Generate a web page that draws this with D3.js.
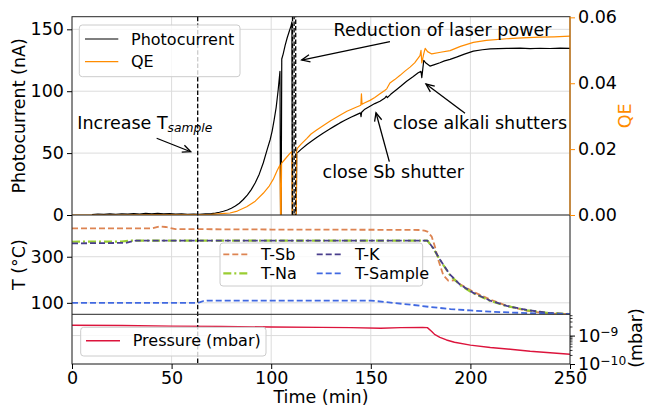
<!DOCTYPE html>
<html><head><meta charset="utf-8">
<script src="https://cdn.jsdelivr.net/npm/d3@7"></script>
<style>body{margin:0;background:#fff} svg{display:block} text{font-family:"DejaVu Sans",sans-serif;fill:#000}</style>
</head><body><svg id="c" width="645" height="409"></svg>
<script>
// ---------------- data ----------------
const photocurrent = [[10,0.4],[13,0.8],[16,0.5],[19,0.9],[22,0.6],[25,1.0],[28,0.7],[31,1.1],[34,0.8],[37,1.3],[40,1.0],[43,1.4],[46,0.9],[49,1.1],[52,0.7],[55,0.9],[58,0.6],[61,0.8],[64,0.6],[67,0.9],[70,1.1],[72,1.5],[74,2.2],[76,3.0],[78,4.0],[80,5.5],[82,7.2],[84,9.5],[86,12.5],[88,16],[90,20.5],[92,26],[94,33],[96,42],[98,53],[99.5,61],[100.5,68],[101.5,77],[102.5,87],[103.5,101],[104.4,116],[104.7,0],[105.0,0],[105.3,126],[106,130],[107,137],[108,143],[109,148],[110,153],[110.4,156],[110.6,0],[112.6,0],[112.8,50],[113.5,50.8],[115,53],[117.8,56.8],[120,59.3],[123,62.8],[126.2,66.3],[129,69],[132,72],[134.5,74.4],[137,76.5],[140,79],[142.9,81.1],[144.8,82.5],[145.1,79.5],[145.4,83],[147,85.5],[149.6,87.8],[152,90],[154.6,91.9],[157.1,94.6],[157.8,96],[158.3,94.8],[160,97.5],[163,101.4],[165,104],[168,108.1],[171,111.5],[173.8,114.9],[175.2,116],[175.6,111],[176.6,125],[177.5,123],[179.7,120.3],[182,121.5],[184.7,123],[187,124.5],[189.8,125.7],[193,127.5],[197,130],[201.5,132.4],[206,133.5],[210,134.2],[218.2,134.6],[225,134.8],[230,134.4],[235,134.7],[240,134.5],[245,134.8],[250,134.6]];
const qe = [[0,0],[20,0],[40,0.0001],[60,0.0001],[70,0.0002],[75,0.0004],[79.3,0.0006],[83,0.0012],[87.7,0.0025],[92,0.0042],[96,0.0066],[99,0.0088],[101,0.0108],[103,0.0135],[104.4,0.0152],[104.7,0],[105.0,0],[105.2,0.0157],[107,0.0170],[109.4,0.0187],[110.4,0.0192],[110.6,0],[112.6,0],[112.8,0.0195],[113.1,0.0202],[115,0.0215],[117.8,0.0232],[120,0.0246],[123,0.0259],[126.2,0.0272],[130,0.0287],[134.5,0.0303],[138,0.0315],[142.9,0.0328],[145,0.0333],[145.3,0.0368],[145.6,0.0336],[147,0.0341],[149.6,0.0348],[152,0.0357],[154.6,0.0368],[157,0.0378],[158,0.0383],[159.6,0.0401],[162,0.0411],[164.7,0.0424],[167,0.0436],[169.7,0.0449],[172,0.0462],[174.7,0.0484],[175.2,0.0500],[175.6,0.0462],[176.6,0.0490],[177.3,0.0506],[178.5,0.0496],[180.6,0.0489],[185,0.0494],[189.8,0.0499],[195,0.0512],[201.5,0.0524],[208,0.0530],[218.2,0.0535],[226,0.0538],[235,0.0540],[242,0.0541],[250,0.0543]];
const tSb = [[0,423],[40,423],[44,432],[47,429],[52,420],[100,418],[150,417],[174.7,416],[177,413],[178.4,409],[180.6,387],[182.2,343],[183.9,286],[186.4,220],[188.9,196],[191,197],[192.3,199],[194.8,181],[201.5,148],[209.8,115],[218,88],[228,66],[238,55],[250,50]];
const tNa = [[0,365],[25,366],[30,370],[178.4,370],[181.4,336],[184.7,286],[189.8,220],[194.8,177],[201.5,141],[209.8,109],[218.2,86],[228.3,68],[238.3,57],[250,51]];
const tK = [[0,358],[27,360],[32,370],[178.4,370],[181.4,337],[184.7,288],[189.8,222],[194.8,179],[201.5,143],[209.8,110],[218.2,87],[228.3,69],[238.3,57],[250,51]];
const tSample = [[0,100],[62.5,100],[64,102],[66,108],[68,110],[100,110],[150,110],[160,101],[170,92],[180,82],[190,73],[200,67],[210,62],[220,58],[235,54],[250,51]];
const pressure = [[0,2.3e-9],[25,2.25e-9],[50,2.15e-9],[75,2.1e-9],[100,2.0e-9],[125,1.95e-9],[140,1.9e-9],[155,1.8e-9],[165,1.9e-9],[176,1.95e-9],[178.4,1.9e-9],[180.6,1.4e-9],[182,1.1e-9],[184.7,8.7e-10],[188,7e-10],[192,5.8e-10],[200,4.6e-10],[210,3.8e-10],[220,3.3e-10],[230,2.8e-10],[240,2.5e-10],[250,2.2e-10]];
const timeTicks = [0,50,100,150,200,250];
const pcTicks = [0,50,100,150];
const qeTicks = [0,0.02,0.04,0.06];
const tTicks = [100,300];
const pTicks = [1e-9,1e-10];
const pMinor = [2e-10,3e-10,4e-10,5e-10,6e-10,7e-10,8e-10,9e-10,2e-9,3e-9,4e-9,5e-9];
const tempIncreaseTime = 63.1;
const laserTimes = [110.7,111.5,112.3];
// annotations in data coords (time, nA): text, anchor, text pos, arrow start, arrow tip
const annotations = [
  {text:"Reduction of laser power", anchor:"middle", pos:[186.0,144.6], from:[159.6,140.0], to:[115.3,125.2]},
  {text:"close Sb shutter", anchor:"middle", pos:[161.3,29.9], from:[159.3,43.1], to:[152.6,82.6]},
  {text:"close alkali shutters", anchor:"middle", pos:[204.8,69.2], from:[197.3,82.2], to:[177.7,105.8]},
  {text:"Increase T", sub:"sample", anchor:"start", pos:[2.66,69.2], from:[42.5,62.0], to:[59.6,51.1]}
];

// ---------------- layout ----------------
const svg = d3.select('#c');
const L=72, R=570, T1=16.7, B1=215, B2=314.3, B3=364;
const FS=17.5, LFS=16;
const cQE='#ff8c00', cSb='#dd8452', cNa='#9acd32', cK='#483d8b', cS='#4169e1', cP='#dc143c';
const x = d3.scaleLinear().domain([0,250]).range([L,R]);
const yPC = d3.scaleLinear().domain([0,160.2]).range([B1,T1]);
const yQE = d3.scaleLinear().domain([0,0.0602]).range([B1,T1]);
const yT = d3.scaleLinear().domain([50.3,481]).range([B2,B1]);
const yP = d3.scaleLog().domain([1e-10,5.6e-9]).range([B3,B2]);

const defs = svg.append('defs');
[['c1',T1,B1],['c2',B1,B2],['c3',B2,B3]].forEach(([id,a,b])=>{
  defs.append('clipPath').attr('id',id).append('rect').attr('x',L).attr('y',a).attr('width',R-L).attr('height',b-a);
});

// grids
const grid = svg.append('g').attr('stroke','#dcdcdc').attr('stroke-width',1);
[[T1,B1],[B1,B2],[B2,B3]].forEach(([a,b])=>{
  timeTicks.forEach(t=>grid.append('line').attr('x1',x(t)).attr('x2',x(t)).attr('y1',a).attr('y2',b));
});
pcTicks.forEach(v=>grid.append('line').attr('x1',L).attr('x2',R).attr('y1',yPC(v)).attr('y2',yPC(v)));
tTicks.forEach(v=>grid.append('line').attr('x1',L).attr('x2',R).attr('y1',yT(v)).attr('y2',yT(v)));
pTicks.forEach(v=>grid.append('line').attr('x1',L).attr('x2',R).attr('y1',yP(v)).attr('y2',yP(v)));

function drawLine(data, ys, clip, color, w, dash){
  const p = svg.append('path').datum(data)
    .attr('clip-path',`url(#${clip})`)
    .attr('fill','none').attr('stroke',color).attr('stroke-width',w)
    .attr('stroke-linejoin','round')
    .attr('d', d3.line().x(d=>x(d[0])).y(d=>ys(d[1])));
  if(dash) p.attr('stroke-dasharray',dash);
  return p;
}
// top
drawLine(photocurrent, yPC, 'c1', '#000', 1.2);
drawLine(qe, yQE, 'c1', cQE, 1.2);
// middle
drawLine(tSb, yT, 'c2', cSb, 1.8, '6,3');
drawLine(tNa, yT, 'c2', cNa, 2.2, '8,3,2,3');
drawLine(tK, yT, 'c2', cK, 1.8, '6,3');
drawLine(tSample, yT, 'c2', cS, 1.8, '6,3');
// bottom
drawLine(pressure, yP, 'c3', cP, 1.4);

// vertical dashed markers
svg.append('line').attr('x1',x(tempIncreaseTime)).attr('x2',x(tempIncreaseTime)).attr('y1',T1).attr('y2',B3)
  .attr('stroke','#000').attr('stroke-width',1.3).attr('stroke-dasharray','4.5,2.2');
laserTimes.forEach((t,i)=>svg.append('line').attr('x1',x(t)).attr('x2',x(t)).attr('y1',T1).attr('y2',B1)
  .attr('stroke','#000').attr('stroke-width',1.3).attr('stroke-dasharray','4.5,2.2').attr('stroke-dashoffset',i*2));

// spines
const sp = svg.append('g').attr('stroke','#262626').attr('stroke-width',1).attr('fill','none');
sp.append('rect').attr('x',L).attr('y',T1).attr('width',R-L).attr('height',B3-T1);
sp.append('line').attr('x1',L).attr('x2',R).attr('y1',B1).attr('y2',B1);
sp.append('line').attr('x1',L).attr('x2',R).attr('y1',B2).attr('y2',B2);
svg.append('line').attr('x1',R).attr('x2',R).attr('y1',T1).attr('y2',B1).attr('stroke',cQE).attr('stroke-width',1);

// axes
function styleAxis(g, color){
  g.select('.domain').remove();
  g.selectAll('line').attr('stroke',color).attr('stroke-width',1);
  g.selectAll('text').style('font-size',FS+'px').style('font-family','DejaVu Sans').attr('fill',color);
}
svg.append('g').attr('transform',`translate(0,${B3})`)
  .call(d3.axisBottom(x).tickValues(timeTicks).tickSize(5).tickPadding(3).tickFormat(d3.format('d')))
  .call(g=>styleAxis(g,'#000'));
svg.append('g').attr('transform',`translate(${L},0)`)
  .call(d3.axisLeft(yPC).tickValues(pcTicks).tickSize(5).tickPadding(3).tickFormat(d3.format('d')))
  .call(g=>styleAxis(g,'#000'));
svg.append('g').attr('transform',`translate(${R},0)`)
  .call(d3.axisRight(yQE).tickValues(qeTicks).tickSize(5).tickPadding(3).tickFormat(d3.format('.2f')))
  .call(g=>styleAxis(g,cQE));
svg.append('g').attr('transform',`translate(${L},0)`)
  .call(d3.axisLeft(yT).tickValues(tTicks).tickSize(5).tickPadding(3).tickFormat(d3.format('d')))
  .call(g=>styleAxis(g,'#000'));
// pressure log axis
const pAx = svg.append('g').attr('transform',`translate(${R},0)`)
  .call(d3.axisRight(yP).tickValues(pTicks).tickSize(5).tickPadding(3).tickFormat(()=>''))
  .call(g=>styleAxis(g,'#000'));
pAx.selectAll('.tick text').each(function(d){
  const t = d3.select(this);
  t.text('');
  t.append('tspan').text('10');
  t.append('tspan').text('\u2212'+Math.round(-Math.log10(d))).style('font-size','12.3px').attr('dy','-0.45em');
});
pMinor.forEach(v=>svg.append('line').attr('x1',R).attr('x2',R+2.5).attr('y1',yP(v)).attr('y2',yP(v)).attr('stroke','#000').attr('stroke-width',0.8));

// axis labels
function vlabel(txt,cx,cy,color){
  svg.append('text').attr('transform',`translate(${cx},${cy}) rotate(-90)`).attr('text-anchor','middle')
    .attr('dominant-baseline','central').style('font-size',FS+'px').attr('fill',color).style('fill',color).text(txt);
}
vlabel('Photocurrent (nA)',19,(T1+B1)/2,'#000');
vlabel('T (\u00b0C)',19,(B1+B2)/2,'#000');
vlabel('QE',625,(T1+B1)/2,cQE);
vlabel('(mbar)',636,338,'#000');
svg.append('text').attr('x',(L+R)/2).attr('y',397).attr('text-anchor','middle').attr('dominant-baseline','central')
  .style('font-size',FS+'px').text('Time (min)');

// annotations
function arrow(x1,y1,x2,y2){
  const g = svg.append('g').attr('stroke','#000').attr('stroke-width',1.3).attr('fill','none');
  g.append('line').attr('x1',x1).attr('y1',y1).attr('x2',x2).attr('y2',y2);
  const a = Math.atan2(y2-y1,x2-x1), hl=9, ha=0.42;
  const p1=[x2-hl*Math.cos(a-ha), y2-hl*Math.sin(a-ha)], p2=[x2-hl*Math.cos(a+ha), y2-hl*Math.sin(a+ha)];
  g.append('path').attr('d',`M${p1[0]},${p1[1]}L${x2},${y2}L${p2[0]},${p2[1]}`);
}
annotations.forEach(a=>{
  arrow(x(a.from[0]),yPC(a.from[1]),x(a.to[0]),yPC(a.to[1]));
  const t = svg.append('text').attr('x',x(a.pos[0])).attr('y',yPC(a.pos[1])).attr('text-anchor',a.anchor).style('font-size',FS+'px');
  t.append('tspan').text(a.text);
  if(a.sub) t.append('tspan').text(a.sub).style('font-style','italic').style('font-size','12.3px').attr('dy',3);
});

// legends
function legendBox(x0,y0,w,h){
  svg.append('rect').attr('x',x0).attr('y',y0).attr('width',w).attr('height',h).attr('rx',3)
    .attr('fill','#fff').attr('fill-opacity',0.8).attr('stroke','#cccccc').attr('stroke-width',1);
}
function legendItem(x1,x2,y,tx,label,color,w,dash){
  const l = svg.append('line').attr('x1',x1).attr('x2',x2).attr('y1',y).attr('y2',y).attr('stroke',color).attr('stroke-width',w);
  if(dash) l.attr('stroke-dasharray',dash);
  svg.append('text').attr('x',tx).attr('y',y).attr('dominant-baseline','central').style('font-size',LFS+'px').text(label);
}
legendBox(79.3,25,160.7,51.7);
legendItem(85,118.3,39,131,'Photocurrent','#000',1.2);
legendItem(85,118.3,61.7,131,'QE',cQE,1.2);
legendBox(220,243,202.7,43);
legendItem(223.3,250,254.3,261,'T-Sb',cSb,1.8,'6,3');
legendItem(223.3,250,273.3,261,'T-Na',cNa,2.2,'8,3,2,3');
legendItem(316.7,343.3,254.3,355,'T-K',cK,1.8,'6,3');
legendItem(316.7,343.3,273.3,355,'T-Sample',cS,1.8,'6,3');
legendBox(80.7,327.3,185.3,28.7);
legendItem(86,120,340.7,132.7,'Pressure (mbar)',cP,1.4);
</script></body></html>
